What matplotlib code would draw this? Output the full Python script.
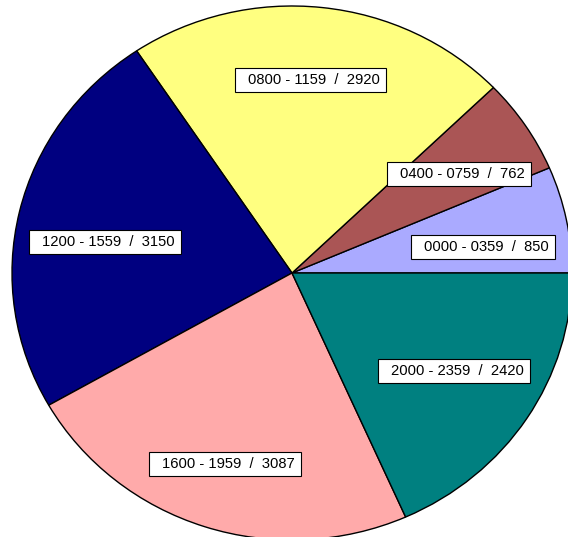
import matplotlib
matplotlib.use("Agg")
import matplotlib.pyplot as plt
from matplotlib.transforms import IdentityTransform
from matplotlib.patches import Rectangle

categories = ["0000 - 0359", "0400 - 0759", "0800 - 1159", "1200 - 1559", "1600 - 1959", "2000 - 2359"]
values = [850, 762, 2920, 3150, 3087, 2420]
colors = ["#AAAAFF", "#AA5555", "#FFFF80", "#000080", "#FFAAAA", "#008080"]
# label box left/top corners (pixel coords, y from top)
box_lt = [(411, 235), (387, 162), (235, 68), (29, 230), (149, 452), (378, 359)]

W, H = 568, 537
fig = plt.figure(figsize=(W / 100, H / 100), dpi=100)
ax = fig.add_axes([0, 0, 1, 1])

# pie drawn as unit circle, stretched to an ellipse via axis limits
cx_px, cy_px, rx, ry = 292, 273, 280, 267
ax.pie(values, colors=colors, startangle=0, counterclock=True, center=(0, 0), radius=1,
       wedgeprops=dict(edgecolor="black", linewidth=1.0), frame=True)
ax.set_aspect("auto")
ax.set_xlim(-cx_px / rx, (W - cx_px) / rx)
ax.set_ylim(-(H - cy_px) / ry, cy_px / ry)
ax.axis("off")

ident = IdentityTransform()
texts = []
for cat, v, (lx, ty) in zip(categories, values, box_lt):
    t = ax.text(lx + 13, H - (ty + 12), f"{cat}  /  {v}", ha="left", va="center",
                fontsize=10.6, family=["Liberation Sans", "DejaVu Sans"],
                transform=ident, zorder=5)
    texts.append((t, lx, ty))

fig.canvas.draw()
renderer = fig.canvas.get_renderer()
for t, lx, ty in texts:
    bb = t.get_window_extent(renderer)
    w = bb.x1 - lx + 6
    rect = Rectangle((lx, H - ty - 24), w, 24, transform=ident, facecolor="white",
                     edgecolor="black", linewidth=0.8, zorder=4)
    ax.add_artist(rect)

fig.savefig("out.png", dpi=100)
